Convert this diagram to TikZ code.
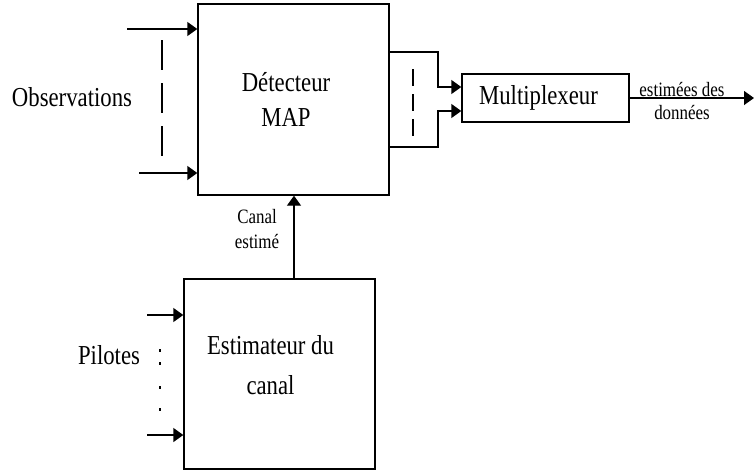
\documentclass[tikz,border=0pt]{standalone}
\usepackage{fontspec}
\setmainfont{Liberation Serif}[FakeStretch=0.83]
\usetikzlibrary{positioning, arrows.meta}

\begin{document}
\begin{tikzpicture}[
        x=0.5pt, y=-0.5pt,
        box/.style={rectangle, draw=black, line width=0.7pt, inner sep=0pt},
        txt/.style={align=center, inner sep=0pt, font=\fontsize{13.7}{17.5}\selectfont},
        lbl/.style={align=center, inner sep=0pt, font=\fontsize{10.2}{12.5}\selectfont},
        arrow/.style={-{Triangle[length=5pt, width=7pt]}, line width=0.7pt},
        wire/.style={line width=0.7pt}
        ]
        \useasboundingbox (0,0) rectangle (755,472);

        \node[box, minimum width=95.5pt, minimum height=95.5pt] (map) at (293.5,99.5) {};
        \node[box, minimum width=83.5pt, minimum height=24pt] (mux) at (545.5,98) {};
        \node[box, minimum width=95.5pt, minimum height=95pt] (est) at (279.5,374) {};

        \node[txt, xshift=-3.75pt] (maptxt) at (map.center) {D\'etecteur\\MAP};
        \node[txt, xshift=-3.5pt] (muxtxt) at (mux.center) {Multiplexeur};
        \node[txt, font=\fontsize{13.7}{20}\selectfont, xshift=-4.5pt, yshift=4.5pt] (esttxt) at (est.center) {Estimateur du\\canal};

        \node[txt] (obs) at (72,97) {Observations};
        \node[txt] (pil) at (109,355) {Pilotes};
        \node[lbl] (can) at (257,229) {Canal\\estim\'e};
        \node[lbl, font=\fontsize{10.2}{11.5}\selectfont] (don) at (682,101) {estim\'ees des\\donn\'ees};

        % observations
        \coordinate (o1) at (127,29);
        \coordinate (o2) at (139,173);
        \draw[arrow] (o1) -- (o1 -| map.west);
        \draw[arrow] (o2) -- (o2 -| map.west);
        \draw[wire, dash pattern=on 15pt off 6.5pt] (162,40) -- (162,156);

        % MAP -> multiplexeur
        \coordinate (j1) at (438,52);
        \coordinate (j2) at (438,147);
        \draw[arrow] (map.east |- j1) -- (j1) |- (mux.west |- 0,87);
        \draw[arrow] (map.east |- j2) -- (j2) |- (mux.west |- 0,111);
        \draw[wire, dash pattern=on 8.5pt off 4pt] (413,69) -- (413,136);

        \coordinate (out) at (754,98);
        \draw[arrow] (mux.east) -- (out);

        % estimateur
        \draw[arrow] (est.north -| 294,0) -- (map.south -| 294,0);
        \coordinate (p1) at (147,315);
        \coordinate (p2) at (147,435);
        \draw[arrow] (p1) -- (p1 -| est.west);
        \draw[arrow] (p2) -- (p2 -| est.west);
        \draw[wire, dash pattern=on 1.5pt off 5pt on 1.5pt off 10.5pt on 1.5pt off 9.5pt on 1.5pt off 5pt] (160,349) -- (160,411);
    \end{tikzpicture}
\end{document}
